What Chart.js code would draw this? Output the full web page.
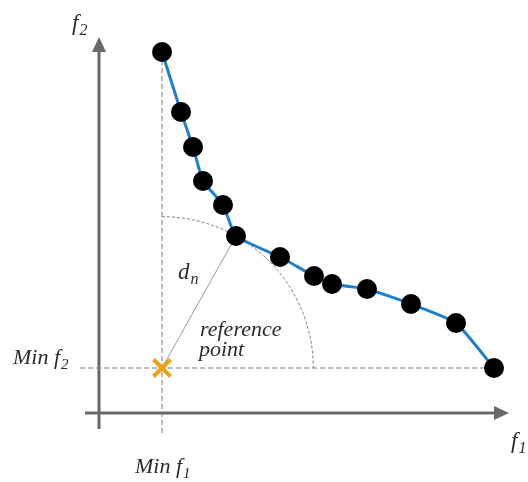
<!DOCTYPE html>
<html>
<head>
<meta charset="utf-8">
<script src="https://cdn.jsdelivr.net/npm/chart.js@4"></script>
<style>
  html, body { margin: 0; padding: 0; background: #fff; }
  canvas { display: block; }
</style>
</head>
<body>
<canvas id="paretoCanvas" width="528" height="482"></canvas>
<script>
// Pareto front points (f1, f2)
const f1Values = [6.3, 8.2, 9.4, 10.4, 12.4, 13.7, 18.1, 21.5, 23.3, 26.8, 31.2, 35.7, 39.5];
const f2Values = [36.1, 30.1, 26.6, 23.2, 20.8, 17.7, 15.6, 13.7, 12.9, 12.4, 10.9, 9.0, 4.5];
const minF1 = 6.3;
const minF2 = 4.5;
const nearestIdx = 5;   // point used for d_n

const axisClr  = '#686868';
const textClr  = '#2b2b2b';
const guideClr = '#7a7a7a';
const frontClr = '#1f7fcf';
const refClr   = '#e8a212';

const frontData = f1Values.map((x, i) => ({ x, y: f2Values[i] }));

function drawSub(ctx, x, y, main, sub, size) {
  ctx.font = 'italic ' + size + 'px "Liberation Serif", "Times New Roman", serif';
  ctx.fillText(main, x, y);
  const w = ctx.measureText(main).width;
  ctx.font = 'italic ' + Math.round(size * 0.68) + 'px "Liberation Serif", "Times New Roman", serif';
  ctx.fillText(sub, x + w + 1, y + size * 0.22);
}

const diagramPlugin = {
  id: 'diagram',
  beforeDatasetsDraw(chart) {
    const { ctx, scales: { x, y } } = chart;
    const px = v => x.getPixelForValue(v);
    const py = v => y.getPixelForValue(v);
    ctx.save();

    // axes
    ctx.strokeStyle = axisClr;
    ctx.fillStyle = axisClr;
    ctx.lineWidth = 3;
    ctx.beginPath();
    ctx.moveTo(px(0), py(-1.6));
    ctx.lineTo(px(0), py(36.4));
    ctx.moveTo(px(-1.4), py(0));
    ctx.lineTo(px(39.8), py(0));
    ctx.stroke();
    // arrow heads
    ctx.beginPath();
    ctx.moveTo(px(0), py(37.6));
    ctx.lineTo(px(0) - 7, py(36.1));
    ctx.lineTo(px(0) + 7, py(36.1));
    ctx.closePath();
    ctx.fill();
    ctx.beginPath();
    ctx.moveTo(px(41.0), py(0));
    ctx.lineTo(px(39.5), py(0) - 7);
    ctx.lineTo(px(39.5), py(0) + 7);
    ctx.closePath();
    ctx.fill();

    // guide lines through the reference point
    ctx.strokeStyle = guideClr;
    ctx.lineWidth = 1;
    ctx.setLineDash([5, 3]);
    ctx.beginPath();
    ctx.moveTo(px(minF1), py(f2Values[0]));
    ctx.lineTo(px(minF1), py(-2.3));
    ctx.moveTo(px(-1.9), py(minF2));
    ctx.lineTo(px(f1Values[f1Values.length - 1]), py(minF2));
    ctx.stroke();

    // arc of radius d_n
    const cx = px(minF1), cy = py(minF2);
    const r = Math.hypot(px(f1Values[nearestIdx]) - cx, py(f2Values[nearestIdx]) - cy);
    ctx.setLineDash([3, 2]);
    ctx.beginPath();
    ctx.arc(cx, cy, r, -Math.PI / 2, 0);
    ctx.stroke();

    // d_n segment
    ctx.setLineDash([]);
    ctx.strokeStyle = '#9a9a9a';
    ctx.beginPath();
    ctx.moveTo(cx, cy);
    ctx.lineTo(px(f1Values[nearestIdx]), py(f2Values[nearestIdx]));
    ctx.stroke();
    ctx.restore();
  },
  afterDatasetsDraw(chart) {
    const { ctx, scales: { x, y } } = chart;
    const px = v => x.getPixelForValue(v);
    const py = v => y.getPixelForValue(v);
    ctx.save();
    ctx.fillStyle = textClr;
    ctx.textBaseline = 'alphabetic';
    ctx.textAlign = 'left';
    drawSub(ctx, px(-2.7), py(38.3), 'f', '2', 23);
    drawSub(ctx, px(41.2), py(-3.5), 'f', '1', 23);
    drawSub(ctx, px(-8.6), py(4.9), 'Min f', '2', 22);
    drawSub(ctx, px(3.6), py(-6.0), 'Min f', '1', 22);
    drawSub(ctx, px(7.9), py(13.4), 'd', 'n', 23);
    ctx.font = 'italic 22px "Liberation Serif", "Times New Roman", serif';
    ctx.fillText('reference', px(10.1), py(7.7));
    ctx.fillText('point', px(10.0), py(5.7));
    ctx.restore();
  }
};

new Chart(document.getElementById('paretoCanvas'), {
  type: 'scatter',
  data: {
    datasets: [
      {
        label: 'Pareto front',
        data: frontData,
        showLine: true,
        borderColor: frontClr,
        borderWidth: 3,
        tension: 0.15,
        pointRadius: 10,
        pointBackgroundColor: '#000',
        pointBorderColor: '#000',
        pointBorderWidth: 0,
      },
      {
        label: 'reference point',
        data: [{ x: minF1, y: minF2 }],
        pointStyle: 'crossRot',
        pointRadius: 12,
        pointBorderColor: refClr,
        pointBorderWidth: 4,
      },
    ],
  },
  options: {
    responsive: false,
    animation: false,
    layout: { padding: 0, autoPadding: false },
    plugins: { legend: { display: false }, tooltip: { enabled: false } },
    scales: {
      x: { type: 'linear', display: false, min: -9.9, max: 42.9 },
      y: { type: 'linear', display: false, min: -6.9, max: 41.3 },
    },
  },
  plugins: [diagramPlugin],
});
</script>
</body>
</html>
